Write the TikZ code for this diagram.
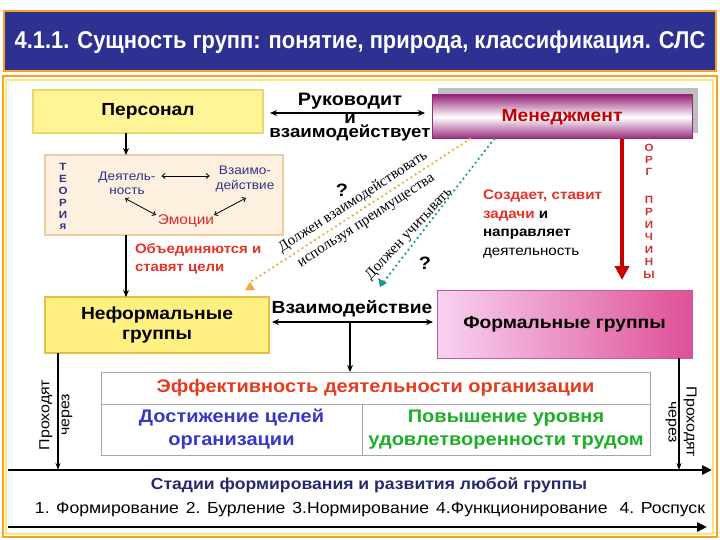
\documentclass[tikz,border=0pt]{standalone}
\usepackage{fontspec}
\setmainfont{Liberation Sans}[FakeStretch=1.1]
\newfontfamily\titlefont{Liberation Sans}[FakeStretch=0.9]
\newfontfamily\serifru{Liberation Serif}
\usetikzlibrary{arrows.meta}
\definecolor{titleblue}{RGB}{46,49,146}
\definecolor{frameorange}{RGB}{247,160,40}
\definecolor{frameyellow}{RGB}{255,230,120}
\definecolor{persfill}{RGB}{255,245,150}
\definecolor{persdraw}{RGB}{235,215,110}
\definecolor{theofill}{RGB}{253,240,222}
\definecolor{theodraw}{RGB}{235,205,165}
\definecolor{textblue}{RGB}{50,50,140}
\definecolor{emored}{RGB}{220,40,40}
\definecolor{objred}{RGB}{230,50,40}
\definecolor{manpurple}{RGB}{150,40,120}
\definecolor{manred}{RGB}{190,0,0}
\definecolor{arrred}{RGB}{200,0,0}
\definecolor{dotorange}{RGB}{240,170,60}
\definecolor{dotteal}{RGB}{30,150,150}
\definecolor{inffill}{RGB}{255,240,130}
\definecolor{infdraw}{RGB}{230,190,70}
\definecolor{formL}{RGB}{248,210,240}
\definecolor{formM}{RGB}{250,225,242}
\definecolor{formR}{RGB}{222,80,150}
\definecolor{formdraw}{RGB}{190,90,160}
\definecolor{effred}{RGB}{230,60,30}
\definecolor{goalblue}{RGB}{55,55,200}
\definecolor{satgreen}{RGB}{30,175,40}
\definecolor{stageblue}{RGB}{40,40,110}
\definecolor{orgred}{RGB}{210,50,50}
\begin{document}
\begin{tikzpicture}[x=1pt,y=-1pt,
  every node/.style={inner sep=0pt, outer sep=0pt, align=center},
  arr/.style={-{Stealth[length=7pt,width=6pt]}, line width=1.4pt},
  darr/.style={{Stealth[length=7pt,width=6pt]}-{Stealth[length=7pt,width=6pt]}, line width=1.4pt},
  tarr/.style={{Straight Barb[length=3pt,width=5pt]}-{Straight Barb[length=3pt,width=5pt]}, line width=0.8pt},
  dotline/.style={line width=2.6pt, line cap=round, dash pattern=on 0pt off 5pt},
  bigtext/.style={font=\fontsize{17.5}{20}\selectfont\bfseries},
  cell/.style={draw=gray!70, line width=0.8pt, font=\fontsize{18.2}{23}\selectfont\bfseries},
  letter/.style={font=\fontsize{10.5}{11}\selectfont\bfseries}
]
\useasboundingbox (0,0) rectangle (720,540);
\fill[white] (0,0) rectangle (720,540);
% title
\draw[frameorange, line width=2.5pt, fill=titleblue] (4,11) rectangle (716,71);
\node[text=white, font=\titlefont\fontsize{24.3}{26}\selectfont\bfseries] (title) at (360,42) {4.1.1. Сущность групп: понятие, природа, классификация. СЛС};
% frame
\draw[frameorange, line width=2pt] (3,76) rectangle (717,537);
\draw[frameyellow, line width=1.5pt] (6,80) rectangle (713,534);

% Personal
\node[draw=persdraw, line width=2pt, fill=persfill, minimum width=230pt, minimum height=43pt, bigtext] (pers) at (148,111.5) {Персонал};
% theory box
\node[draw=theodraw, line width=1.5pt, fill=theofill, minimum width=238pt, minimum height=80pt] (theo) at (164,195) {};
\foreach \ch/\yy [count=\i] in {Т/167,Е/179,О/191,Р/203,И/215,я/227}
  \node[letter, text=textblue] (teo\i) at (63,\yy) {\ch};
\node[text=textblue, font=\fontsize{12.4}{14}\selectfont] (deyat) at (127,183) {Деятель-\\ность};
\node[text=textblue, font=\fontsize{12.4}{15}\selectfont] (vzaim) at (245,179) {Взаимо-\\действие};
\node[text=emored, font=\fontsize{14}{16}\selectfont] (emo) at (186,221) {Эмоции};
\draw[tarr] ([shift={(6pt,7pt)}]deyat.east) -- ([shift={(-6pt,3pt)}]vzaim.west);
\draw[tarr] ([shift={(-2pt,-4pt)}]deyat.south) -- ([shift={(-2pt,6pt)}]emo.west);
\draw[tarr] ([shift={(0pt,6pt)}]emo.east) -- ([shift={(1pt,-6pt)}]vzaim.south);

% Management
\fill[gray!50] (438,88) rectangle (698,133);
\node[draw=manpurple, line width=1pt, top color=manpurple, bottom color=manpurple, middle color=white, minimum width=260pt, minimum height=44pt, text=manred, bigtext] (manag) at (562,117) {Менеджмент};

% Rukovodit
\draw[darr] (pers.east |- 0,113) ++(7,0) coordinate (rk1) -- ([xshift=-7pt]manag.west |- rk1);
\node[font=\fontsize{18}{20}\selectfont\bfseries, anchor=base] (ruk) at (350,106) {Руководит};
\node[font=\fontsize{17}{20}\selectfont\bfseries, anchor=base] (rki) at (350,123.5) {и};
\node[font=\fontsize{17}{20}\selectfont\bfseries, anchor=base] (rkv) at (350,137.5) {взаимодействует};

% Informal / Formal
\node[draw=infdraw, line width=1.5pt, fill=inffill, minimum width=224pt, minimum height=56pt, bigtext] (inf) at (157,325) {Неформальные\\группы};
\node[draw=formdraw, line width=1pt, left color=formL, middle color=formM, right color=formR, minimum width=255pt, minimum height=68pt, bigtext] (form) at (564.5,324) {Формальные группы};

% arrows personal -> theory -> informal
\draw[arr] ([xshift=-22pt]pers.south) -- ([xshift=-38pt]theo.north);
\draw[arr] ([xshift=-38pt]theo.south) -- ([xshift=-31pt]inf.north);
\node[text=objred, anchor=north west, align=left, font=\fontsize{13.6}{18.5}\selectfont\bfseries] (obj) at (135,243.5) {Объединяются и\\ставят цели};

% management red arrow
\draw[arrred, line width=4pt, -{Triangle[length=14pt,width=14pt]}] ([xshift=60pt]manag.south) -- ([shift={(57.5pt,10pt)}]form.north);
\foreach \ch/\yy [count=\i] in {О/148,Р/160,Г/172,П/200,Р/212,И/225,Ч/237,И/250,Н/262,Ы/275}
  \node[letter, text=orgred] (org\i) at (649,\yy) {\ch};
\node[anchor=north west, align=left, font=\fontsize{13.8}{18.5}\selectfont] (sozd) at (483,190)
  {\textbf{\color{objred}Создает, ставит}\\\textbf{\color{objred}задачи} \textbf{и}\\\textbf{направляет}\\деятельность};

% dotted lines
\draw[dotline, dotorange] ([xshift=-92pt]manag.south) -- ([shift={(-17pt,16pt)}]inf.north east) coordinate (oe);
\fill[dotorange] ([shift={(-19pt,14pt)}]inf.north east) ++(0,-1) -- ++(-5,8) -- ++(10,0) -- cycle;
\draw[dotline, dotteal] ([xshift=-68pt]manag.south) -- ([shift={(-55pt,6pt)}]form.north west);
\fill[dotteal] ([shift={(-57pt,3pt)}]form.north west) -- ++(-2,-9) -- ++(9,5) -- cycle;
\node[font=\serifru\fontsize{15}{16}\selectfont, rotate=33] (dv) at (353,202) {Должен взаимодействовать};
\node[font=\serifru\fontsize{15}{16}\selectfont, rotate=33] (ip) at (367,222) {используя преимущества};
\node[font=\serifru\fontsize{15}{16}\selectfont, rotate=47] (du) at (409,234) {Должен учитывать};
\node[font=\fontsize{18}{20}\selectfont\bfseries] (q1) at (342,190) {?};
\node[font=\fontsize{18}{20}\selectfont\bfseries] (q2) at (425,263) {?};

% interaction
\coordinate (vmid) at (350,322);
\draw[darr] ([xshift=3pt]inf.east |- vmid) -- ([xshift=-4pt]form.west |- vmid);
\node[bigtext, anchor=base] (vz) at (352,313) {Взаимодействие};

% table
\node[cell, text=effred, minimum width=549pt, minimum height=32pt] (eff) at (375.5,388) {Эффективность деятельности организации};
\node[cell, text=goalblue, minimum width=261pt, minimum height=51pt] (goal) at (231.5,429.5) {Достижение целей\\организации};
\node[cell, text=satgreen, minimum width=288pt, minimum height=51pt] (sat) at (506,429.5) {Повышение уровня\\удовлетворенности трудом};
\draw[arr] (vmid) -- (vmid |- eff.north);

% axis
\coordinate (axL) at (8,470);
\coordinate (axR) at (712,470);
\coordinate (axL2) at (8,527);
\coordinate (axR2) at (707,527);
\draw[line width=2.6pt, -{Triangle[length=10pt,width=9pt]}] (axL) -- (axR);
\draw[line width=2.6pt, -{Triangle[length=10pt,width=9pt]}] (axL2) -- (axR2);
\coordinate (lv) at ([xshift=13pt]inf.south west);
\coordinate (rv) at ([xshift=-13pt]form.south east);
\draw[line width=1.2pt, -{Stealth[length=7pt,width=5pt]}] (lv) -- (lv |- axL);
\draw[line width=1.2pt, -{Stealth[length=7pt,width=5pt]}] (rv) -- (rv |- axR);
\node[rotate=90, font=\fontsize{14.5}{20}\selectfont] (pl) at (56,415) {Проходят\\через};
\node[rotate=-90, font=\fontsize{14.5}{18}\selectfont] (pr) at (681,422) {Проходят\\через};
\node[text=stageblue, font=\fontsize{16}{17}\selectfont\bfseries] (stages) at (369,485) {Стадии формирования и развития любой группы};
\node[font=\fontsize{16}{19}\selectfont] (list) at (370,510) {1. Формирование\hspace{7pt}2. Бурление\hspace{7pt}3.Нормирование\hspace{7pt}4.Функционирование\hspace{12pt}4. Роспуск};
\end{tikzpicture}
\end{document}
